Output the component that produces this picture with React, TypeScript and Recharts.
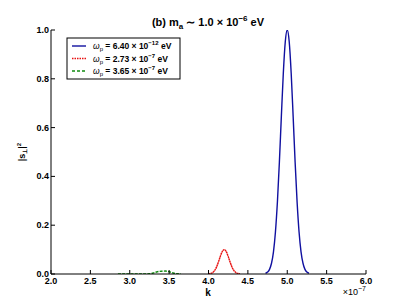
import { Line, LineChart, XAxis, YAxis } from "recharts";

// k values are in units of 1e-7
const xTicks = [2.0, 2.5, 3.0, 3.5, 4.0, 4.5, 5.0, 5.5, 6.0];
const yTicks = [0, 0.2, 0.4, 0.6, 0.8, 1.0];

const blueK = [4.725, 4.75, 4.775, 4.8, 4.825, 4.85, 4.875, 4.9, 4.925, 4.95, 4.975, 5.0, 5.025, 5.05, 5.075, 5.1, 5.125, 5.15, 5.175, 5.2, 5.225, 5.25, 5.275];
const blueS = [0.003, 0.008, 0.019, 0.044, 0.091, 0.172, 0.295, 0.458, 0.645, 0.823, 0.952, 1.0, 0.952, 0.823, 0.645, 0.458, 0.295, 0.172, 0.091, 0.044, 0.019, 0.008, 0.003];

const redK = [4.0, 4.025, 4.05, 4.075, 4.1, 4.125, 4.15, 4.175, 4.2, 4.225, 4.25, 4.275, 4.3, 4.325, 4.35, 4.375, 4.4];
const redS = [0.0006, 0.0019, 0.0053, 0.0131, 0.0272, 0.0481, 0.0722, 0.0922, 0.1, 0.0922, 0.0722, 0.0481, 0.0272, 0.0131, 0.0053, 0.0019, 0.0006];

const greenK = [2.85, 2.9, 2.95, 3.0, 3.05, 3.1, 3.15, 3.2, 3.25, 3.3, 3.35, 3.4, 3.45, 3.5, 3.55, 3.6, 3.65];
const greenS = [0, 0, 0, 0, 0, 0, 0, 0.0002, 0.0012, 0.0043, 0.0093, 0.0114, 0.012, 0.0093, 0.0043, 0.0012, 0.0002];

const series = [
  { name: "6.40", exp: "−12", color: "#1010a0", dash: undefined, legendDash: undefined, k: blueK, s: blueS },
  { name: "2.73", exp: "−7", color: "#e81010", dash: "2 0.4", legendDash: "1.5 1", k: redK, s: redS },
  { name: "3.65", exp: "−7", color: "#108a10", dash: "3 1.2", legendDash: "3 2", k: greenK, s: greenS },
];

const FONT = "'Liberation Sans', Arial, sans-serif";

const BottomTick = ({ x, y, payload }: any) => (
  <g>
    <line x1={x} x2={x} y1={y} y2={y - 4} stroke="#000" />
    <text x={x} y={y + 10} textAnchor="middle" fontSize={9} fontWeight="bold" fontFamily={FONT} fill="#000">
      {Number(payload.value).toFixed(1)}
    </text>
  </g>
);
const TopTick = ({ x, y }: any) => <line x1={x} x2={x} y1={y} y2={y + 4} stroke="#000" />;
const LeftTick = ({ x, y, payload }: any) => (
  <g>
    <line x1={x} x2={x + 4} y1={y} y2={y} stroke="#000" />
    <text x={x - 2} y={y + 3} textAnchor="end" fontSize={9} fontWeight="bold" fontFamily={FONT} fill="#000">
      {Number(payload.value).toFixed(1)}
    </text>
  </g>
);
const RightTick = ({ x, y }: any) => <line x1={x} x2={x - 4} y1={y} y2={y} stroke="#000" />;

export default function App() {
  return (
    <div style={{ position: "absolute", left: 0, top: 0, width: 407, height: 305, background: "#fff" }}>
      <LineChart width={407} height={305} margin={{ top: 30, right: 41, bottom: 11, left: 11 }}>
        <XAxis xAxisId="b" type="number" dataKey="k" domain={[2, 6]} ticks={xTicks} interval={0}
          tickSize={0} tickMargin={0} height={20} tick={<BottomTick />} stroke="#000" allowDataOverflow />
        <XAxis xAxisId="t" orientation="top" type="number" dataKey="k" domain={[2, 6]} ticks={xTicks} interval={0}
          tickSize={0} tickMargin={0} height={0} tick={<TopTick />} stroke="#000" />
        <YAxis yAxisId="l" type="number" domain={[0, 1]} ticks={yTicks} interval={0}
          tickSize={0} tickMargin={0} width={40} tick={<LeftTick />} stroke="#000" allowDataOverflow />
        <YAxis yAxisId="r" orientation="right" type="number" domain={[0, 1]} ticks={yTicks} interval={0}
          tickSize={0} tickMargin={0} width={0} tick={<RightTick />} stroke="#000" />
        {series.map((sr) => (
          <Line
            key={sr.name}
            xAxisId="b"
            yAxisId="l"
            data={sr.k.map((k, i) => ({ k, s: sr.s[i] }))}
            dataKey="s"
            type="monotone"
            stroke={sr.color}
            strokeWidth={1.4}
            strokeDasharray={sr.dash}
            dot={false}
            isAnimationActive={false}
          />
        ))}
      </LineChart>
      <svg width={407} height={305} style={{ position: "absolute", left: 0, top: 0, pointerEvents: "none" }}
        fontFamily={FONT} fontWeight="bold">
        <text x={208} y={26} textAnchor="middle" fontSize={11}>
          (b) m<tspan fontSize={8} dy={3}>a</tspan>
          <tspan dy={-3}> ∼ 1.0 × 10</tspan>
          <tspan fontSize={8} dy={-5}>−6</tspan>
          <tspan dy={5}> eV</tspan>
        </text>
        <text x={208} y={296} textAnchor="middle" fontSize={10}>k</text>
        <text x={366} y={295} textAnchor="end" fontSize={9} fontWeight="normal">
          ×10<tspan fontSize={7} dy={-4}>−7</tspan>
        </text>
        <text transform="translate(25,152) rotate(-90)" textAnchor="middle" fontSize={9}>
          |s<tspan fontSize={6} dy={2}>⊥</tspan><tspan dy={-2}>|</tspan>
          <tspan fontSize={6} dy={-4}>2</tspan>
        </text>
        <rect x={67} y={38} width={113} height={41} fill="#fff" stroke="#000" strokeWidth={1} />
        {series.map((sr, i) => {
          const y = 46 + i * 12.5;
          return (
            <g key={sr.name}>
              <line x1={72} x2={86} y1={y} y2={y} stroke={sr.color} strokeWidth={1.4} strokeDasharray={sr.legendDash} />
              <text x={93} y={y + 3} fontSize={8.5}>
                <tspan fontWeight="normal" fontStyle="italic">ω</tspan>
                <tspan fontSize={6} dy={2} fontWeight="normal">p</tspan>
                <tspan dy={-2}> = {sr.name} × 10</tspan>
                <tspan fontSize={6} dy={-4}>{sr.exp}</tspan>
                <tspan dy={4}> eV</tspan>
              </text>
            </g>
          );
        })}
      </svg>
    </div>
  );
}
